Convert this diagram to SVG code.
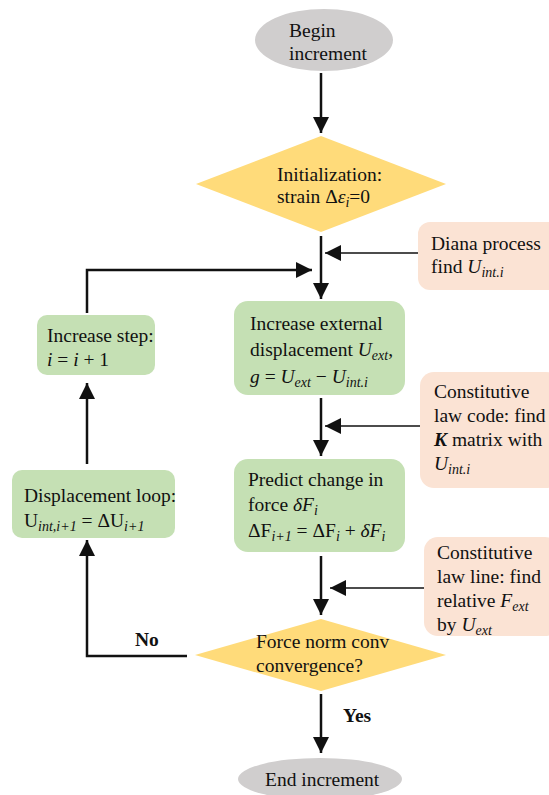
<svg xmlns="http://www.w3.org/2000/svg" width="549" height="795" viewBox="0 0 549 795">
<style>
text{font-family:"Liberation Serif","Times New Roman",serif;font-size:19.5px;fill:#111}
.m{font-style:italic}
.s{font-size:14px}
.b{font-weight:bold}
.term{fill:#D0CECE}
.dec{fill:#FFDB7A}
.proc{fill:#C5E0B4}
.note{fill:#FBE3D4}
.ln{stroke:#111;stroke-width:2.5;fill:none}
.tn{stroke:#111;stroke-width:1.5;fill:none}
</style>
<defs>
<marker id="ah" markerUnits="userSpaceOnUse" markerWidth="18" markerHeight="18" refX="16" refY="8" orient="auto">
<path d="M0,0 L16,8 L0,16 Z" fill="#111"/>
</marker>
<marker id="ah2" markerUnits="userSpaceOnUse" markerWidth="18" markerHeight="18" refX="16" refY="8" orient="auto">
<path d="M0,0 L16,8 L0,16 Z" fill="#111"/>
</marker>
</defs>

<g id="begin">
<ellipse class="term" cx="324" cy="40" rx="69" ry="31"/>
<text x="289" y="37">Begin</text>
<text x="289" y="60">increment</text>
</g>

<g id="init">
<polygon class="dec" points="196,184 321,136 446,184 321,232"/>
<text x="277" y="181">Initialization:</text>
<text x="277" y="203">strain Δ<tspan class="m">ε</tspan><tspan class="m s" dy="4">i</tspan><tspan dy="-4">=0</tspan></text>
</g>

<g id="diana">
<rect class="note" x="418" y="222" width="145" height="68" rx="12"/>
<text x="431" y="250">Diana process</text>
<text x="431" y="273">find <tspan class="m">U</tspan><tspan class="m s" dy="4">int.i</tspan></text>
</g>

<g id="incext">
<rect class="proc" x="234" y="301" width="171" height="94" rx="14"/>
<text x="250" y="330">Increase external</text>
<text x="250" y="356">displacement <tspan class="m">U</tspan><tspan class="m s" dy="4">ext</tspan><tspan dy="-4">,</tspan></text>
<text x="250" y="383"><tspan class="m">g</tspan> = <tspan class="m">U</tspan><tspan class="m s" dy="4">ext</tspan><tspan dy="-4"> − </tspan><tspan class="m">U</tspan><tspan class="m s" dy="4">int.i</tspan></text>
</g>

<g id="incstep">
<rect class="proc" x="37" y="315" width="118" height="60" rx="10"/>
<text x="47" y="342">Increase step:</text>
<text x="47" y="366"><tspan class="m">i</tspan> = <tspan class="m">i</tspan> + 1</text>
</g>

<g id="lawcode">
<rect class="note" x="420" y="372" width="140" height="116" rx="14"/>
<text x="434" y="398">Constitutive</text>
<text x="434" y="422">law code: find</text>
<text x="434" y="446"><tspan class="m b">K</tspan> matrix with</text>
<text x="434" y="470"><tspan class="m">U</tspan><tspan class="m s" dy="4">int.i</tspan></text>
</g>

<g id="predict">
<rect class="proc" x="234" y="459" width="171" height="93" rx="14"/>
<text x="248" y="486">Predict change in</text>
<text x="248" y="511">force <tspan class="m">δF</tspan><tspan class="m s" dy="4">i</tspan></text>
<text x="248" y="537">ΔF<tspan class="m s" dy="4">i+1</tspan><tspan dy="-4"> = ΔF</tspan><tspan class="m s" dy="4">i</tspan><tspan dy="-4"> + </tspan><tspan class="m">δF</tspan><tspan class="m s" dy="4">i</tspan></text>
</g>

<g id="disploop">
<rect class="proc" x="12" y="470" width="163" height="68" rx="10"/>
<text x="24" y="502">Displacement loop:</text>
<text x="24" y="527">U<tspan class="m s" dy="4">int,i+1</tspan><tspan dy="-4"> = ΔU</tspan><tspan class="m s" dy="4">i+1</tspan></text>
</g>

<g id="lawline">
<rect class="note" x="424" y="537" width="135" height="99" rx="14"/>
<text x="437" y="559">Constitutive</text>
<text x="437" y="583">law line: find</text>
<text x="437" y="607">relative <tspan class="m">F</tspan><tspan class="m s" dy="4">ext</tspan></text>
<text x="437" y="631">by <tspan class="m">U</tspan><tspan class="m s" dy="4">ext</tspan></text>
</g>

<g id="conv">
<polygon class="dec" points="195,655 321,619 446,655 321,691"/>
<text x="256" y="648">Force norm conv</text>
<text x="256" y="672">convergence?</text>
</g>

<g id="end">
<ellipse class="term" cx="320" cy="779" rx="82" ry="21"/>
<text x="265" y="786">End increment</text>
</g>

<g id="connectors">
<line class="ln" x1="321" y1="73" x2="321" y2="133" marker-end="url(#ah)"/>
<line class="ln" x1="321" y1="236" x2="321" y2="299" marker-end="url(#ah)"/>
<line class="tn" x1="418" y1="253" x2="325" y2="253" marker-end="url(#ah2)"/>
<polyline class="ln" points="87,313 87,270 312,270" marker-end="url(#ah)"/>
<line class="ln" x1="321" y1="398" x2="321" y2="456" marker-end="url(#ah)"/>
<line class="tn" x1="420" y1="426" x2="325" y2="426" marker-end="url(#ah2)"/>
<line class="ln" x1="87" y1="464" x2="87" y2="383" marker-end="url(#ah)"/>
<line class="ln" x1="321" y1="556" x2="321" y2="615" marker-end="url(#ah)"/>
<line class="tn" x1="424" y1="588" x2="330" y2="588" marker-end="url(#ah2)"/>
<polyline class="ln" points="187,656 87,656 87,540" marker-end="url(#ah)"/>
<text class="b" x="135" y="646">No</text>
<line class="ln" x1="321" y1="694" x2="321" y2="753" marker-end="url(#ah)"/>
<text class="b" x="343" y="722">Yes</text>
</g>
</svg>
